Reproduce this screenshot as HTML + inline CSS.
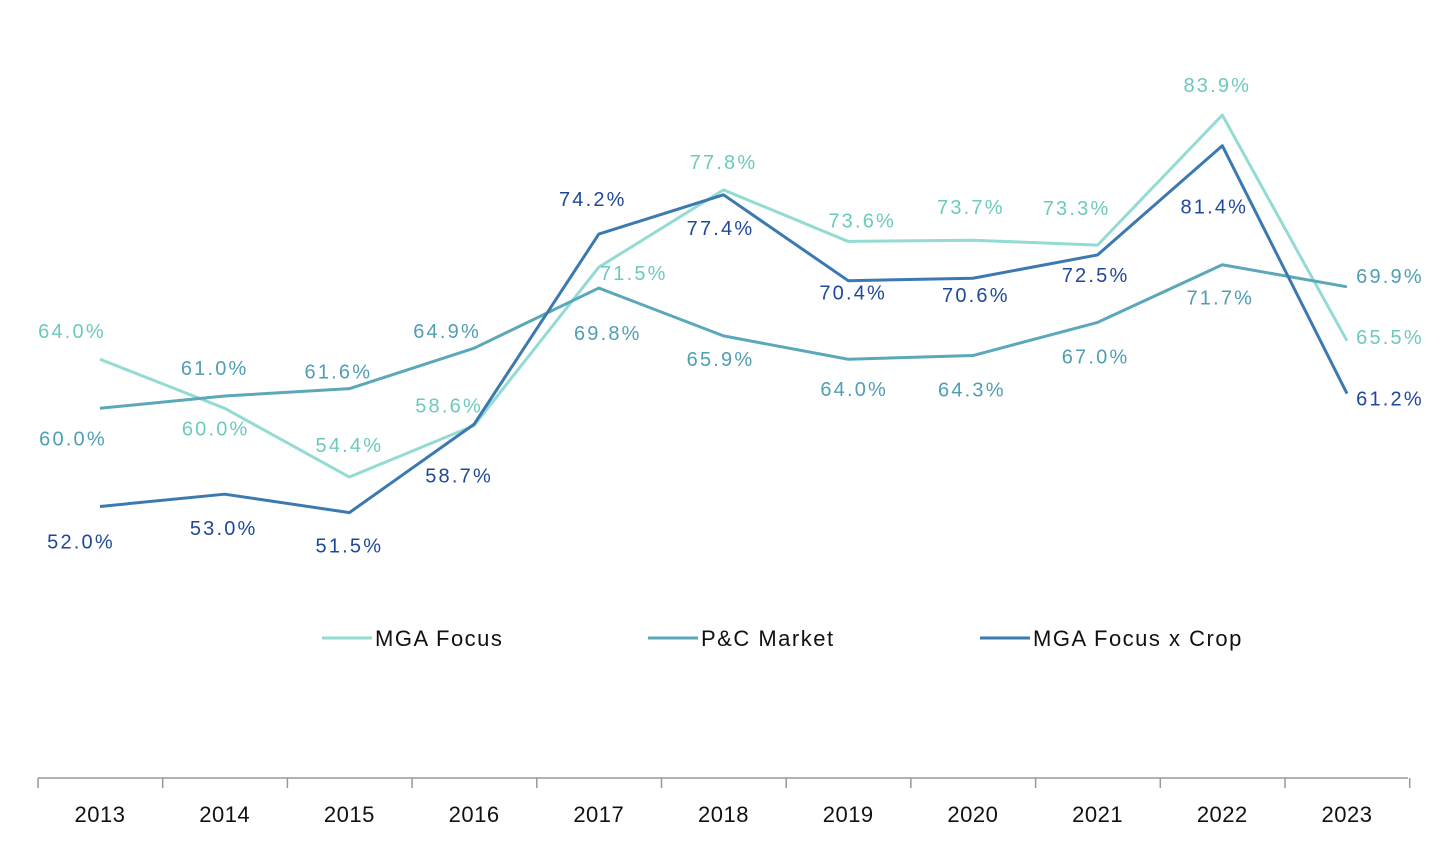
<!DOCTYPE html>
<html><head><meta charset="utf-8"><style>
html,body{margin:0;padding:0;background:#fff;}
svg{display:block;font-family:"Liberation Sans",sans-serif;}
</style></head><body>
<svg id="chart" width="1456" height="855" viewBox="0 0 1456 855"></svg>
<script>
const years = ["2013","2014","2015","2016","2017","2018","2019","2020","2021","2022","2023"];
const mgaFocus = [64.0,60.0,54.4,58.6,71.5,77.8,73.6,73.7,73.3,83.9,65.5];
const pcMarket = [60.0,61.0,61.6,64.9,69.8,65.9,64.0,64.3,67.0,71.7,69.9];
const mgaCrop = [52.0,53.0,51.5,58.7,74.2,77.4,70.4,70.6,72.5,81.4,61.2];
const seriesNames = ["MGA Focus","P&C Market","MGA Focus x Crop"];

const NS="http://www.w3.org/2000/svg";
const svg=document.getElementById('chart');
function x(i){return 100+124.7*i;}
function y(v){return 1144.5-12.27*v;}
function mk(t,a){const e=document.createElementNS(NS,t);for(const k in a)e.setAttribute(k,a[k]);svg.appendChild(e);return e;}

const series=[
 {vals:mgaFocus,line:"#93dbd3",txt:"#6ccabd",name:"mga-focus",off:[[-28,-28],[-9,20],[0,-32],[-25,-20],[35,6],[0,-28],[14,-21],[-2,-33],[-21,-37],[-5,-30],[43,-4]]},
 {vals:pcMarket,line:"#5ba8b9",txt:"#4f9fb4",name:"pc-market",off:[[-27,30],[-10,-28],[-11,-17],[-27,-17],[9,45],[-3,23],[6,30],[-1,34],[-2,34],[-2,33],[43,-11]]},
 {vals:mgaCrop,line:"#3b79b1",txt:"#20489a",name:"mga-focus-x-crop",off:[[-19,35],[-1,34],[0,33],[-15,51],[-6,-35],[-3,33],[5,12],[3,17],[-2,20],[-8,61],[43,5]]}
];

let ax=mk('line',{x1:38,y1:778,x2:1408,y2:778,stroke:'#999','stroke-width':1.5});


for(let i=0;i<=years.length;i++){
 const tx=38+124.7*i;
 const t=mk('line',{x1:tx,y1:778,x2:tx,y2:788,stroke:'#999','stroke-width':1.5});
 
 
}
years.forEach((yr,i)=>{
 const t=mk('text',{x:x(i),y:822,'text-anchor':'middle','font-size':22,fill:'#111','letter-spacing':'0.5'});
 t.textContent=yr;
 
 
});

series.forEach(s=>{
 const p=mk('polyline',{points:s.vals.map((v,i)=>x(i)+','+y(v)).join(' '),fill:'none',stroke:s.line,'stroke-width':3,'stroke-linejoin':'round'});
 
 
});
series.forEach(s=>{
 s.vals.forEach((v,i)=>{
  const t=mk('text',{x:x(i)+s.off[i][0],y:y(v)+s.off[i][1]+7,'text-anchor':'middle','font-size':20,fill:s.txt,'letter-spacing':'2.2'});
  t.textContent=v.toFixed(1)+'%';
  
  
 });
});

const legX=[322,648,980];
series.forEach((s,k)=>{
 const g=document.createElementNS(NS,'g');svg.appendChild(g);
 
 
 const l=document.createElementNS(NS,'line');
 l.setAttribute('x1',legX[k]);l.setAttribute('x2',legX[k]+50);l.setAttribute('y1',638);l.setAttribute('y2',638);
 l.setAttribute('stroke',s.line);l.setAttribute('stroke-width',3);g.appendChild(l);
 const t=document.createElementNS(NS,'text');
 t.setAttribute('x',legX[k]+53);t.setAttribute('y',646);t.setAttribute('font-size',22);t.setAttribute('fill','#111');
 t.setAttribute('letter-spacing','1.5');
 t.textContent=seriesNames[k];g.appendChild(t);
});
</script>
</body></html>
